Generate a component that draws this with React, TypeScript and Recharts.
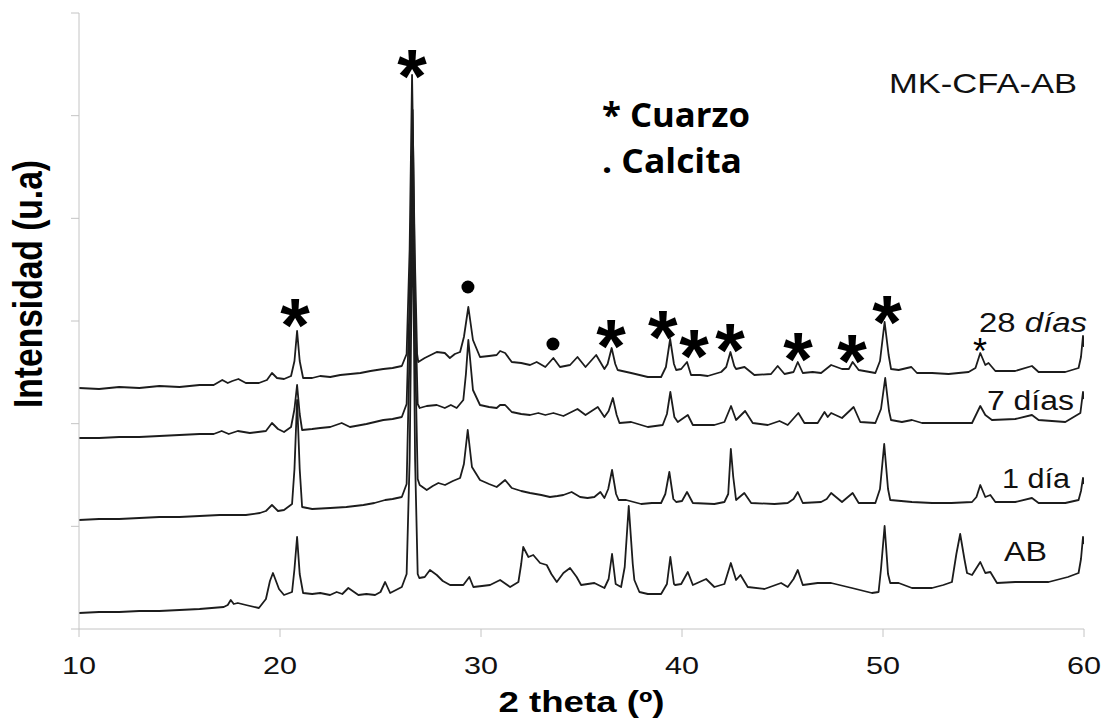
import { Line, LineChart, ReferenceDot, XAxis, YAxis } from 'recharts'

const SANS = '"Liberation Sans", Arial, sans-serif'
const INK = '#1c1c1c'
const AXIS = '#c4c4c4'

// 2 theta (deg) vs intensity (a.u., traces stacked by offset)
const d28: [number, number][] = [
  [10.0, 241], [11.0, 240], [12.0, 242], [13.0, 241], [14.0, 243], [15.0, 242], [16.0, 244], [16.7, 244],
  [17.13, 249], [17.4, 246], [17.63, 248], [17.93, 250], [18.3, 246], [18.95, 246], [19.35, 249], [19.6, 256],
  [19.85, 251], [20.2, 250], [20.55, 253], [20.72, 268], [20.85, 298], [20.98, 268], [21.15, 251], [21.6, 251],
  [22.0, 253], [22.5, 252], [23.0, 254], [23.5, 255], [24.0, 256], [24.5, 258], [25.14, 260], [25.6, 261],
  [26.06, 263], [26.3, 275], [26.45, 380], [26.57, 554], [26.7, 380], [26.82, 275], [26.88, 267], [27.2, 271],
  [27.5, 274], [27.8, 277], [28.2, 276], [28.45, 271], [28.7, 275], [28.96, 277], [29.15, 292], [29.37, 322],
  [29.6, 289], [29.95, 272], [30.4, 273], [30.78, 274], [30.95, 278], [31.2, 276], [31.53, 267], [32.0, 266],
  [32.44, 264], [32.77, 267], [33.2, 262], [33.6, 271], [33.93, 262], [34.43, 264], [34.8, 272], [35.2, 262],
  [35.73, 274], [36.14, 260], [36.3, 265], [36.5, 281], [36.68, 265], [36.8, 259], [37.47, 256], [38.3, 252],
  [38.96, 252], [39.2, 262], [39.41, 290], [39.6, 265], [39.71, 259], [39.96, 260], [40.25, 267], [40.45, 254],
  [40.9, 254], [41.28, 253], [41.95, 257], [42.2, 262], [42.41, 277], [42.6, 263], [42.69, 260], [43.11, 262],
  [43.6, 254], [44.43, 255], [44.76, 263], [45.1, 255], [45.55, 257], [45.76, 267], [46.01, 256], [46.5, 257],
  [46.92, 256], [47.42, 264], [47.96, 260], [48.3, 260], [48.49, 267], [48.79, 259], [49.62, 256], [49.85, 268],
  [50.08, 307], [50.28, 274], [50.4, 260], [50.78, 259], [51.41, 262], [51.69, 256], [52.44, 256], [53.26, 255],
  [54.26, 257], [54.6, 261], [54.84, 276], [55.09, 264], [55.25, 266], [55.59, 258], [56.58, 258], [57.41, 263],
  [57.74, 257], [58.5, 257], [59.07, 257], [59.73, 261], [59.85, 272], [59.95, 293], [60.0, 282],
]

const d7: [number, number][] = [
  [10.0, 191], [11.0, 191], [12.0, 192], [13.0, 192], [14.0, 193], [15.0, 194], [16.0, 195], [16.7, 195],
  [17.1, 198], [17.45, 195], [17.9, 198], [18.5, 196], [19.3, 198], [19.6, 206], [19.9, 200], [20.2, 197],
  [20.55, 202], [20.72, 220], [20.85, 244], [20.98, 215], [21.1, 199], [21.6, 200], [22.0, 201], [22.5, 202],
  [23.07, 206], [23.48, 202], [24.3, 205], [25.14, 209], [25.6, 210], [26.06, 212], [26.3, 225], [26.45, 330],
  [26.6, 519], [26.72, 330], [26.85, 225], [26.95, 221], [27.3, 223], [27.8, 224], [28.2, 221], [28.5, 224],
  [28.79, 221], [29.12, 229], [29.25, 255], [29.37, 289], [29.6, 239], [29.95, 224], [30.4, 222], [30.78, 221],
  [30.95, 224], [31.2, 224], [31.53, 217], [32.0, 215], [32.44, 214], [32.85, 216], [33.2, 214], [33.6, 216],
  [34.1, 213], [34.8, 220], [35.2, 214], [35.81, 222], [36.14, 212], [36.35, 218], [36.56, 231], [36.75, 214],
  [36.89, 206], [37.47, 207], [38.3, 202], [39.04, 204], [39.25, 215], [39.42, 237], [39.62, 212], [39.79, 207],
  [40.29, 214], [40.54, 204], [41.61, 204], [42.11, 207], [42.44, 223], [42.69, 209], [43.14, 218], [43.52, 206],
  [44.27, 204], [44.85, 208], [45.26, 204], [45.79, 216], [46.09, 206], [46.75, 206], [47.09, 217], [47.25, 212],
  [47.42, 216], [47.96, 211], [48.54, 222], [48.87, 207], [49.62, 206], [49.9, 220], [50.11, 251], [50.3, 218],
  [50.4, 209], [50.94, 207], [51.44, 209], [51.94, 206], [53.26, 206], [54.43, 206], [54.84, 223], [55.09, 214],
  [55.42, 209], [56.58, 210], [57.41, 214], [57.74, 209], [59.07, 207], [59.82, 216], [59.95, 237], [60.0, 230],
]

const d1: [number, number][] = [
  [10.0, 109], [11.0, 110], [12.0, 110], [13.0, 111], [14.0, 112], [15.0, 112], [16.0, 113], [17.0, 114],
  [18.3, 114], [19.0, 116], [19.3, 118], [19.6, 124], [19.9, 118], [20.2, 119], [20.6, 125], [20.72, 160],
  [20.85, 229], [20.98, 160], [21.1, 122], [21.6, 120], [22.5, 121], [23.3, 122], [24.15, 124], [24.7, 126],
  [25.23, 129], [25.6, 130], [26.06, 132], [26.3, 145], [26.45, 280], [26.6, 469], [26.72, 280], [26.85, 150],
  [26.95, 144], [27.3, 139], [27.6, 143], [27.88, 146], [28.21, 144], [28.6, 148], [28.96, 151], [29.15, 165],
  [29.34, 199], [29.55, 162], [29.95, 149], [30.4, 145], [30.78, 142], [31.2, 149], [31.53, 141], [32.0, 138],
  [32.44, 136], [33.0, 134], [33.43, 132], [33.8, 133], [34.1, 134], [34.51, 137], [34.93, 132], [35.3, 131],
  [35.64, 132], [35.94, 137], [36.14, 131], [36.33, 140], [36.52, 159], [36.72, 135], [36.85, 129], [37.22, 129],
  [37.97, 125], [38.5, 126], [38.96, 126], [39.17, 135], [39.37, 157], [39.57, 130], [39.71, 127], [40.0, 128],
  [40.25, 137], [40.54, 126], [41.61, 125], [42.11, 127], [42.3, 135], [42.43, 180], [42.55, 152], [42.69, 129],
  [43.1, 136], [43.44, 126], [44.6, 125], [45.26, 126], [45.55, 130], [45.76, 137], [46.01, 126], [46.92, 127],
  [47.2, 130], [47.42, 136], [47.96, 127], [48.49, 136], [48.79, 126], [49.62, 126], [49.85, 140], [50.06, 185],
  [50.25, 140], [50.36, 129], [51.44, 127], [52.44, 126], [53.4, 126], [54.43, 127], [54.65, 132], [54.84, 144],
  [55.09, 132], [55.34, 134], [55.59, 127], [56.58, 127], [57.41, 131], [57.74, 126], [59.07, 126], [59.73, 129],
  [59.85, 138], [59.95, 151], [60.0, 145],
]

const dAB: [number, number][] = [
  [10.0, 16], [11.0, 17], [12.0, 17], [13.0, 18], [14.0, 18], [15.0, 19], [16.0, 20], [16.6, 21],
  [17.2, 22], [17.4, 24], [17.55, 29], [17.7, 25], [17.9, 26], [18.3, 24], [18.95, 21], [19.3, 30],
  [19.5, 48], [19.65, 56], [19.8, 48], [19.95, 40], [20.2, 34], [20.6, 37], [20.72, 60], [20.85, 92],
  [20.98, 55], [21.15, 36], [21.6, 35], [22.0, 36], [22.49, 34], [22.82, 37], [23.1, 35], [23.4, 41],
  [23.9, 34], [24.3, 35], [24.73, 34], [25.0, 37], [25.23, 47], [25.48, 36], [26.06, 42], [26.3, 55],
  [26.45, 170], [26.6, 429], [26.72, 170], [26.85, 55], [26.93, 51], [27.2, 52], [27.46, 59], [27.8, 54],
  [28.1, 48], [28.46, 44], [29.12, 44], [29.42, 52], [29.62, 42], [30.05, 43], [30.45, 44], [30.95, 49],
  [31.45, 42], [31.86, 47], [32.0, 65], [32.1, 82], [32.36, 72], [32.6, 74], [32.94, 66], [33.27, 64],
  [33.5, 55], [33.77, 47], [34.1, 56], [34.43, 61], [34.76, 52], [34.98, 44], [35.64, 46], [36.14, 41],
  [36.35, 50], [36.52, 75], [36.7, 45], [36.97, 42], [37.15, 62], [37.35, 123], [37.55, 65], [37.63, 49],
  [37.88, 37], [38.3, 35], [38.96, 35], [39.25, 45], [39.42, 72], [39.6, 45], [39.66, 44], [39.96, 45],
  [40.29, 57], [40.54, 44], [41.2, 50], [41.61, 42], [42.11, 45], [42.43, 66], [42.69, 49], [42.91, 54],
  [43.27, 42], [44.1, 40], [44.93, 46], [45.26, 42], [45.55, 50], [45.76, 59], [46.01, 44], [46.75, 46],
  [47.42, 46], [48.45, 41], [49.45, 36], [49.78, 37], [49.9, 60], [50.08, 103], [50.25, 55], [50.36, 46],
  [50.78, 46], [51.44, 41], [52.44, 41], [53.0, 44], [53.43, 47], [53.65, 75], [53.84, 95], [54.05, 70],
  [54.18, 56], [54.43, 54], [54.84, 67], [55.09, 56], [55.34, 57], [55.67, 46], [56.58, 47], [58.24, 47],
  [59.2, 52], [59.73, 56], [59.85, 70], [59.95, 92], [60.0, 85],
]

const xTicks = [10, 20, 30, 40, 50, 60]
const yTicks = [0, 102.67, 205.33, 308, 410.67, 513.33, 616]

// peak markers: [2 theta, height]
const quartzMarks: [number, number][] = [
  [20.75, 320], [26.57, 569], [36.47, 299], [39.05, 308], [40.6, 289], [42.39, 295], [45.77, 286], [48.46, 284], [50.2, 323],
]
const calciteMarks: [number, number][] = [[29.35, 342], [33.58, 285]]
const smallQuartz: [number, number] = [54.83, 285]

// trace names, anchored at left baseline
const traceLabels = [
  { x: 54.78, y: 297, num: '28', word: 'días', italic: true, len: 108 },
  { x: 55.17, y: 219, num: '7', word: 'días', italic: false, len: 87 },
  { x: 55.92, y: 141, num: '1', word: 'día', italic: false, len: 68 },
  { x: 56.02, y: 68, num: '', word: 'AB', italic: false, len: 43 },
]

const toPoints = (rows: [number, number][]) => rows.map(([x, y]) => ({ x, y }))

type Pt = { cx?: number; cy?: number }

function XTick({ x, y, payload }: { x?: number; y?: number; payload?: { value: number } }) {
  return (
    <text x={x} y={(y ?? 0) + 35} textAnchor="middle" fontSize={24} fontFamily={SANS} fill="#111"
      textLength={34} lengthAdjust="spacingAndGlyphs">
      {payload?.value}
    </text>
  )
}

function XTitle({ viewBox }: { viewBox?: { x: number; y: number; width: number } }) {
  const vb = viewBox ?? { x: 79, y: 629, width: 1005 }
  return (
    <text x={vb.x + vb.width / 2} y={vb.y + 83} textAnchor="middle" fontSize={29} fontWeight={700}
      fontFamily={SANS} fill="#000" textLength={166} lengthAdjust="spacingAndGlyphs">
      2 theta (º)
    </text>
  )
}

function YTitle() {
  return (
    <text transform="translate(42,284) rotate(-90) scale(1,1.25)" textAnchor="middle" fontSize={33}
      fontWeight={700} fontFamily={SANS} fill="#000" textLength={248} lengthAdjust="spacingAndGlyphs">
      Intensidad (u.a)
    </text>
  )
}

export default function App() {
  return (
    <div style={{ position: 'absolute', left: 0, top: 0, background: '#fff' }}>
      <LineChart width={1107} height={726} margin={{ top: 13, right: 23, bottom: 0, left: 0 }}>
        <XAxis type="number" dataKey="x" domain={[10, 60]} ticks={xTicks} allowDataOverflow
          stroke={AXIS} tickSize={8} tickLine={{ stroke: AXIS }} height={97} tick={<XTick />}
          label={<XTitle />} />
        <YAxis type="number" dataKey="y" domain={[0, 616]} ticks={yTicks} allowDataOverflow width={79}
          stroke={AXIS} tickSize={8} tickLine={{ stroke: AXIS }} tickFormatter={() => ''}
          label={<YTitle />} />
        {[dAB, d1, d7, d28].map((rows, i) => (
          <Line key={i} data={toPoints(rows)} dataKey="y" type="linear" stroke={INK} strokeWidth={1.8}
            strokeLinejoin="round" dot={false} activeDot={false} isAnimationActive={false} />
        ))}
        {quartzMarks.map(([x, y]) => (
          <ReferenceDot key={`q${x}`} x={x} y={y} r={0} shape={(p: Pt) => (
            <text x={p.cx} y={(p.cy ?? 0) + 42} textAnchor="middle" fontSize={76} fontWeight={700}
              fontFamily={SANS} fill="#000">*</text>
          )} />
        ))}
        {calciteMarks.map(([x, y]) => (
          <ReferenceDot key={`c${x}`} x={x} y={y} r={6.5} fill="#000" stroke="none" />
        ))}
        <ReferenceDot x={smallQuartz[0]} y={smallQuartz[1]} r={0} shape={(p: Pt) => (
          <text x={p.cx} y={(p.cy ?? 0) + 20} textAnchor="middle" fontSize={36} fontFamily={SANS} fill="#000">*</text>
        )} />
        {traceLabels.map((t) => (
          <ReferenceDot key={t.word + t.num} x={t.x} y={t.y} r={0} shape={(p: Pt) => (
            <text x={p.cx} y={p.cy} fontSize={27} fontFamily={SANS} fill="#111" textLength={t.len}
              lengthAdjust="spacingAndGlyphs">
              {t.num ? `${t.num} ` : ''}
              <tspan fontStyle={t.italic ? 'italic' : 'normal'}>{t.word}</tspan>
            </text>
          )} />
        ))}
        <ReferenceDot x={50.3} y={536} r={0} shape={(p: Pt) => (
          <text x={p.cx} y={p.cy} fontSize={28} fontFamily={SANS} fill="#111" textLength={188}
            lengthAdjust="spacingAndGlyphs">MK-CFA-AB</text>
        )} />
        <ReferenceDot x={36.02} y={502} r={0} shape={(p: Pt) => (
          <text x={p.cx} y={p.cy} fontSize={34} fontWeight={700} fontFamily='"Open Sans", sans-serif'
            fill="#000" textLength={148} lengthAdjust="spacingAndGlyphs">* Cuarzo</text>
        )} />
        <ReferenceDot x={36.02} y={456} r={0} shape={(p: Pt) => (
          <text x={p.cx} y={p.cy} fontSize={34} fontWeight={700} fontFamily='"Open Sans", sans-serif'
            fill="#000" textLength={140} lengthAdjust="spacingAndGlyphs">. Calcita</text>
        )} />
      </LineChart>
    </div>
  )
}
